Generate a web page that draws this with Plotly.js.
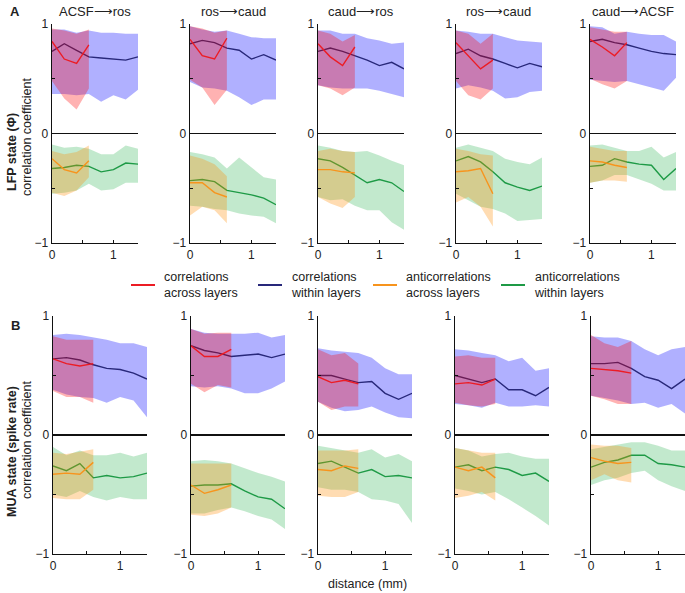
<!DOCTYPE html>
<html><head><meta charset="utf-8">
<script src="https://cdn.plot.ly/plotly-3.0.1.min.js"></script>
<style>body{margin:0;padding:0;background:#fff}#chart{width:685px;height:593px}</style>
</head><body><div id="chart"></div>
<script>
// distances (mm)
const distWithin = [0,0.2,0.4,0.6,0.8,1.0,1.2,1.4];
const distAcross = [0,0.2,0.4,0.6];
const panelTitles = ["ACSF\u27F6ros","ros\u27F6caud","caud\u27F6ros","ros\u27F6caud","caud\u27F6ACSF"];
const seriesNames = ["correlations<br>across layers","correlations<br>within layers","anticorrelations<br>across layers","anticorrelations<br>within layers"];

// ---- LFP state (row A) ----
const lfpWithinMean = [[0.75,0.82,0.76,0.70,0.69,0.68,0.67,0.70],[0.82,0.85,0.83,0.78,0.76,0.68,0.72,0.67],[0.75,0.78,0.75,0.71,0.67,0.62,0.65,0.59],[0.73,0.77,0.71,0.68,0.64,0.60,0.64,0.61],[0.84,0.86,0.83,0.81,0.78,0.75,0.73,0.72]];
const lfpWithinUp = [[0.95,0.95,0.92,0.94,0.92,0.92,0.91,0.91],[0.98,0.95,0.93,0.94,0.91,0.88,0.87,0.87],[0.94,0.94,0.91,0.91,0.87,0.85,0.82,0.83],[0.94,0.93,0.91,0.91,0.88,0.85,0.84,0.83],[0.98,0.97,0.91,0.93,0.91,0.90,0.90,0.84]];
const lfpWithinLo = [[0.36,0.36,0.35,0.36,0.29,0.35,0.31,0.40],[0.47,0.42,0.41,0.39,0.33,0.26,0.31,0.31],[0.44,0.42,0.41,0.41,0.41,0.39,0.36,0.33],[0.41,0.44,0.42,0.39,0.32,0.33,0.38,0.39],[0.49,0.48,0.47,0.48,0.45,0.42,0.39,0.51]];
const lfpAcrossMean = [[0.84,0.68,0.64,0.81],[0.86,0.71,0.68,0.87],[0.82,0.70,0.62,0.79],[0.83,0.71,0.59,0.67],[0.86,0.79,0.71,0.83]];
const lfpAcrossUp = [[0.96,0.94,0.91,0.95],[0.98,0.96,0.92,0.94],[0.94,0.91,0.84,0.90],[0.94,0.91,0.82,0.91],[0.97,0.95,0.93,0.93]];
const lfpAcrossLo = [[0.48,0.32,0.22,0.41],[0.49,0.42,0.26,0.40],[0.44,0.41,0.35,0.42],[0.48,0.35,0.31,0.41],[0.50,0.45,0.41,0.48]];
const lfpAntiWithinMean = [[-0.32,-0.31,-0.29,-0.30,-0.35,-0.33,-0.27,-0.28],[-0.43,-0.42,-0.44,-0.52,-0.54,-0.56,-0.59,-0.65],[-0.23,-0.25,-0.31,-0.38,-0.45,-0.42,-0.45,-0.53],[-0.25,-0.21,-0.26,-0.35,-0.45,-0.49,-0.52,-0.48],[-0.30,-0.29,-0.23,-0.26,-0.28,-0.29,-0.42,-0.32]];
const lfpAntiWithinUp = [[-0.10,-0.13,-0.12,-0.14,-0.19,-0.19,-0.11,-0.14],[-0.17,-0.19,-0.22,-0.32,-0.22,-0.31,-0.40,-0.42],[-0.11,-0.13,-0.16,-0.17,-0.16,-0.20,-0.25,-0.29],[-0.13,-0.10,-0.13,-0.16,-0.23,-0.26,-0.28,-0.22],[-0.11,-0.10,-0.13,-0.16,-0.16,-0.12,-0.22,-0.17]];
const lfpAntiWithinLo = [[-0.55,-0.54,-0.52,-0.46,-0.52,-0.51,-0.45,-0.45],[-0.66,-0.67,-0.69,-0.70,-0.73,-0.75,-0.76,-0.82],[-0.58,-0.61,-0.60,-0.66,-0.70,-0.70,-0.81,-0.88],[-0.55,-0.61,-0.67,-0.69,-0.73,-0.80,-0.79,-0.78],[-0.45,-0.43,-0.38,-0.38,-0.42,-0.46,-0.52,-0.52]];
const lfpAntiAcrossMean = [[-0.23,-0.33,-0.36,-0.25],[-0.45,-0.45,-0.54,-0.58],[-0.33,-0.33,-0.35,-0.36],[-0.35,-0.34,-0.32,-0.55],[-0.25,-0.26,-0.29,-0.31]];
const lfpAntiAcrossUp = [[-0.16,-0.19,-0.17,-0.11],[-0.20,-0.23,-0.28,-0.39],[-0.16,-0.14,-0.16,-0.17],[-0.14,-0.16,-0.19,-0.20],[-0.12,-0.14,-0.16,-0.16]];
const lfpAntiAcrossLo = [[-0.54,-0.57,-0.52,-0.40],[-0.75,-0.67,-0.70,-0.82],[-0.58,-0.64,-0.68,-0.58],[-0.63,-0.58,-0.67,-0.85],[-0.45,-0.43,-0.43,-0.44]];

// ---- MUA state (row B) ----
const muaWithinMean = [[0.64,0.65,0.63,0.59,0.56,0.55,0.52,0.47],[0.75,0.71,0.69,0.66,0.67,0.68,0.65,0.68],[0.50,0.50,0.47,0.44,0.45,0.35,0.30,0.35],[0.50,0.47,0.44,0.47,0.38,0.38,0.33,0.40],[0.60,0.60,0.61,0.56,0.49,0.46,0.39,0.47]];
const muaWithinUp = [[0.84,0.85,0.84,0.82,0.80,0.77,0.77,0.74],[0.89,0.86,0.85,0.85,0.85,0.86,0.82,0.84],[0.73,0.71,0.70,0.69,0.65,0.56,0.51,0.51],[0.72,0.71,0.69,0.67,0.62,0.65,0.54,0.56],[0.83,0.82,0.82,0.79,0.72,0.67,0.72,0.74]];
const muaWithinLo = [[0.38,0.34,0.32,0.31,0.27,0.32,0.29,0.15],[0.41,0.40,0.41,0.39,0.35,0.35,0.39,0.45],[0.28,0.23,0.20,0.21,0.24,0.19,0.15,0.14],[0.26,0.25,0.23,0.27,0.24,0.24,0.25,0.24],[0.33,0.31,0.29,0.26,0.27,0.23,0.26,0.18]];
const muaAcrossMean = [[0.64,0.60,0.58,0.60],[0.75,0.66,0.66,0.72],[0.49,0.44,0.46,0.43],[0.43,0.44,0.42,0.47],[0.56,0.55,0.54,0.52]];
const muaAcrossUp = [[0.83,0.80,0.80,0.80],[0.89,0.85,0.86,0.86],[0.72,0.67,0.69,0.60],[0.66,0.67,0.65,0.65],[0.84,0.77,0.74,0.79]];
const muaAcrossLo = [[0.37,0.32,0.32,0.27],[0.43,0.36,0.42,0.40],[0.28,0.21,0.24,0.24],[0.27,0.25,0.24,0.26],[0.33,0.30,0.26,0.26]];
const muaAntiWithinMean = [[-0.26,-0.30,-0.24,-0.36,-0.34,-0.36,-0.35,-0.32],[-0.43,-0.42,-0.42,-0.41,-0.47,-0.52,-0.54,-0.62],[-0.24,-0.22,-0.27,-0.32,-0.29,-0.35,-0.34,-0.36],[-0.27,-0.25,-0.30,-0.27,-0.29,-0.34,-0.32,-0.39],[-0.27,-0.23,-0.21,-0.17,-0.17,-0.24,-0.25,-0.27]];
const muaAntiWithinUp = [[-0.10,-0.17,-0.13,-0.17,-0.17,-0.15,-0.18,-0.15],[-0.22,-0.21,-0.22,-0.24,-0.28,-0.32,-0.35,-0.39],[-0.09,-0.11,-0.13,-0.15,-0.12,-0.19,-0.16,-0.22],[-0.11,-0.13,-0.18,-0.16,-0.15,-0.18,-0.20,-0.20],[-0.12,-0.10,-0.08,-0.06,-0.06,-0.09,-0.13,-0.13]];
const muaAntiWithinLo = [[-0.50,-0.52,-0.47,-0.52,-0.55,-0.52,-0.54,-0.54],[-0.66,-0.66,-0.63,-0.61,-0.64,-0.68,-0.71,-0.79],[-0.44,-0.46,-0.46,-0.48,-0.54,-0.55,-0.58,-0.74],[-0.45,-0.47,-0.50,-0.48,-0.54,-0.61,-0.68,-0.76],[-0.42,-0.38,-0.36,-0.32,-0.30,-0.38,-0.43,-0.47]];
const muaAntiAcrossMean = [[-0.33,-0.32,-0.33,-0.23],[-0.42,-0.49,-0.46,-0.42],[-0.29,-0.30,-0.26,-0.28],[-0.27,-0.30,-0.27,-0.36],[-0.19,-0.22,-0.24,-0.23]];
const muaAntiAcrossUp = [[-0.15,-0.16,-0.14,-0.12],[-0.24,-0.24,-0.24,-0.24],[-0.13,-0.13,-0.13,-0.12],[-0.11,-0.13,-0.15,-0.15],[-0.08,-0.09,-0.09,-0.11]];
const muaAntiAcrossLo = [[-0.53,-0.54,-0.54,-0.46],[-0.67,-0.68,-0.66,-0.61],[-0.51,-0.52,-0.52,-0.48],[-0.53,-0.51,-0.48,-0.55],[-0.38,-0.33,-0.38,-0.40]];

const W = 685, H = 593;
const FONT = "Liberation Sans, Arial, sans-serif";
const C = {
  withinLine: "#28287a", withinBand: "rgba(0,0,255,0.31)",
  acrossLine: "#ec1c24", acrossBand: "rgba(255,0,0,0.30)",
  antiWithinLine: "#1e9a46", antiWithinBand: "rgba(0,165,45,0.24)",
  antiAcrossLine: "#f7941d", antiAcrossBand: "rgba(255,140,0,0.30)"
};
// panel geometry in pixels
const rows = [
  {top: 24, bottom: 243, x0: [52,190,318,456,590], w: 86},
  {top: 316, bottom: 554, x0: [53,191,318,455,591], w: 94}
];
const rowData = [
  [lfpWithinMean,lfpWithinUp,lfpWithinLo,lfpAcrossMean,lfpAcrossUp,lfpAcrossLo,lfpAntiWithinMean,lfpAntiWithinUp,lfpAntiWithinLo,lfpAntiAcrossMean,lfpAntiAcrossUp,lfpAntiAcrossLo],
  [muaWithinMean,muaWithinUp,muaWithinLo,muaAcrossMean,muaAcrossUp,muaAcrossLo,muaAntiWithinMean,muaAntiWithinUp,muaAntiWithinLo,muaAntiAcrossMean,muaAntiAcrossUp,muaAntiAcrossLo]
];

const traces = [];
const layout = {
  width: W, height: H, margin: {l:0,r:0,t:0,b:0},
  paper_bgcolor: "#fff", plot_bgcolor: "rgba(0,0,0,0)",
  showlegend: false, font: {family: FONT, size: 12, color: "#222"},
  annotations: [], shapes: []
};

function band(x, up, lo, color, xa, ya) {
  return {x: x.concat(x.slice().reverse()), y: up.concat(lo.slice().reverse()),
    type: "scatter", mode: "lines", fill: "toself", fillcolor: color,
    line: {width: 0}, hoverinfo: "skip", xaxis: xa, yaxis: ya};
}
function line(x, y, color, xa, ya) {
  return {x: x, y: y, type: "scatter", mode: "lines", line: {color: color, width: 1.4},
    xaxis: xa, yaxis: ya};
}

let k = 0;
rows.forEach((r, ri) => {
  const d = rowData[ri];
  for (let p = 0; p < 5; p++) {
    k++;
    const xa = "x" + (k === 1 ? "" : k), ya = "y" + (k === 1 ? "" : k);
    const xl = "xaxis" + (k === 1 ? "" : k), yl = "yaxis" + (k === 1 ? "" : k);
    layout[xl] = {
      domain: [r.x0[p]/W, (r.x0[p]+r.w)/W], range: [0, 1.4], anchor: ya,
      showgrid: false, zeroline: false, showline: true, linecolor: "#111", linewidth: 1.3,
      tickvals: [0, 0.5, 1], ticktext: ["0", "", "1"], ticks: "inside", ticklen: 3,
      tickcolor: "#111", tickfont: {family: FONT, size: 12, color: "#222"}, fixedrange: true
    };
    layout[yl] = {
      domain: [1 - r.bottom/H, 1 - r.top/H], range: [-1, 1], anchor: xa,
      showgrid: false, zeroline: true, zerolinecolor: "#111", zerolinewidth: 1.5,
      showline: true, linecolor: "#111", linewidth: 1.3,
      tickvals: [-1, -0.5, 0, 0.5, 1], ticktext: ["\u22121", "", "0", "", "1"],
      ticks: "inside", ticklen: 3, tickcolor: "#111",
      tickfont: {family: FONT, size: 12, color: "#222"}, fixedrange: true
    };
    traces.push(band(distWithin, d[1][p], d[2][p], C.withinBand, xa, ya));
    traces.push(line(distWithin, d[0][p], C.withinLine, xa, ya));
    traces.push(band(distAcross, d[4][p], d[5][p], C.acrossBand, xa, ya));
    traces.push(line(distAcross, d[3][p], C.acrossLine, xa, ya));
    traces.push(band(distWithin, d[7][p], d[8][p], C.antiWithinBand, xa, ya));
    traces.push(line(distWithin, d[6][p], C.antiWithinLine, xa, ya));
    traces.push(band(distAcross, d[10][p], d[11][p], C.antiAcrossBand, xa, ya));
    traces.push(line(distAcross, d[9][p], C.antiAcrossLine, xa, ya));
    if (ri === 0) {
      layout.annotations.push({text: panelTitles[p], xref: "paper", yref: "paper",
        x: (r.x0[p] + r.w/2)/W, y: 1 - 11/H, showarrow: false, xanchor: "center", yanchor: "middle",
        font: {family: FONT, size: 13, color: "#222"}});
    }
  }
});

function ann(text, xpx, ypx, opts) {
  layout.annotations.push(Object.assign({text: text, xref: "paper", yref: "paper",
    x: xpx/W, y: 1 - ypx/H, showarrow: false, xanchor: "center", yanchor: "middle",
    font: {family: FONT, size: 12, color: "#222"}}, opts || {}));
}
ann("<b>A</b>", 15, 12, {font: {family: FONT, size: 13, color: "#222"}});
ann("<b>B</b>", 15, 325, {font: {family: FONT, size: 13, color: "#222"}});
ann("<b>LFP state (\u03A6)</b>", 12, 152, {textangle: -90, font: {family: FONT, size: 12.5, color: "#222"}});
ann("correlation coefficient", 27, 137, {textangle: -90, font: {family: FONT, size: 12.5, color: "#222"}});
ann("<b>MUA state (spike rate)</b>", 12, 452, {textangle: -90, font: {family: FONT, size: 12.5, color: "#222"}});
ann("correlation coefficient", 27, 440, {textangle: -90, font: {family: FONT, size: 12.5, color: "#222"}});
ann("distance (mm)", 367, 584, {font: {family: FONT, size: 12.5, color: "#222"}});

// legend (custom: line sample + two-line label)
const legColors = [C.acrossLine, C.withinLine, C.antiAcrossLine, C.antiWithinLine];
const legX = [131, 258, 373, 501];
legX.forEach((lx, i) => {
  layout.shapes.push({type: "line", xref: "paper", yref: "paper",
    x0: lx/W, x1: (lx+24)/W, y0: 1 - 285/H, y1: 1 - 285/H,
    line: {color: legColors[i], width: 2}});
  ann(seriesNames[i], lx + 31, 285, {xanchor: "left", align: "left",
    font: {family: FONT, size: 12.5, color: "#222"}});
});

Plotly.newPlot("chart", traces, layout, {displayModeBar: false, staticPlot: true});
</script></body></html>
